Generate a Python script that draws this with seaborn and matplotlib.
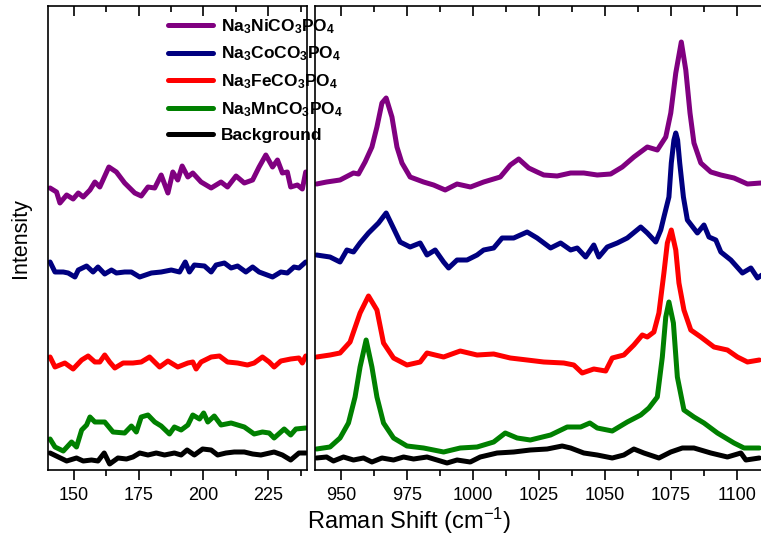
import matplotlib
matplotlib.use("Agg")
import matplotlib.pyplot as plt
from matplotlib.ticker import MultipleLocator
from matplotlib.lines import TICKDOWN
import seaborn as sns

# ---- data (arbitrary intensity units) ----
labels = [r"Na$_\mathbf{3}$NiCO$_\mathbf{3}$PO$_\mathbf{4}$",
          r"Na$_\mathbf{3}$CoCO$_\mathbf{3}$PO$_\mathbf{4}$",
          r"Na$_\mathbf{3}$FeCO$_\mathbf{3}$PO$_\mathbf{4}$",
          r"Na$_\mathbf{3}$MnCO$_\mathbf{3}$PO$_\mathbf{4}$",
          "Background"]
colors = ["#800080", "#000080", "#ff0000", "#008000", "#000000"]

# low wavenumber window (140-240 cm-1)
ni_low_x = [140.8, 143.3, 144.6, 147.2, 149.7, 151.7, 153.6, 156.2, 158.1, 160, 163.5, 166.4, 169.6,
            173.5, 176, 178.6, 181.2, 183.7, 186.3, 188.2, 190.1, 191.8, 194, 195.9, 199.1, 203,
            206.8, 209.3, 212.6, 215.8, 219, 221.5, 224.1, 226.7, 228.6, 230.5, 232.4, 233.7,
            236.3, 238.2, 239.5]
ni_low_y = [282, 278, 267, 275, 271, 277, 273, 280, 288, 283, 303, 298, 287, 277, 274, 283, 282,
            295, 277, 298, 290, 304, 293, 297, 288, 282, 288, 283, 294, 287, 290, 303, 315, 303,
            310, 297, 298, 283, 285, 281, 298]

co_low_x = [140.8, 142.7, 145.9, 147.8, 150.4, 151.7, 154.9, 157.4, 159.3, 161.9, 164.5, 166.4,
            169.6, 172.2, 175.4, 179.9, 183.7, 187.6, 190.8, 193, 194.6, 196.5, 200.4, 203, 204.9,
            208.1, 210.7, 213.2, 216.4, 219, 221.5, 226.7, 229.9, 232.4, 235, 236.9, 239.5]
co_low_y = [208, 198, 198, 197, 193, 200, 204, 198, 203, 196, 200, 197, 198, 198, 193, 197, 198,
            200, 198, 208, 198, 205, 204, 198, 205, 207, 202, 204, 198, 203, 198, 193, 198, 197,
            203, 202, 208]

fe_low_x = [140.8, 142.7, 146.5, 149.7, 153, 155.5, 158.1, 160, 161.9, 163.8, 165.8, 169, 172.8,
            176, 179.2, 183.1, 186.3, 190.1, 194, 195.9, 197.2, 199.1, 203, 206.2, 209.3, 213.2,
            217, 219.6, 222.8, 225.4, 227.3, 229.9, 233.7, 236.9, 238.2, 239.5]
fe_low_y = [113, 103, 107, 101, 110, 114, 108, 108, 115, 108, 102, 107, 107, 108, 113, 103, 109,
            103, 107, 108, 101, 108, 113, 114, 108, 107, 105, 107, 113, 108, 103, 109, 111, 112,
            107, 114]

mn_low_x = [140.8, 142.7, 145.9, 149.1, 151, 153, 154.9, 156.2, 158.1, 161.9, 165.1, 169.6, 172.2,
            174.1, 176, 178.6, 181.2, 183.7, 186.9, 188.8, 191.4, 194, 195.9, 198.5, 200.1, 201.7,
            204.2, 206.8, 210.7, 215.8, 219.6, 222.8, 225.4, 227.3, 231.2, 233.7, 235.7, 239.5]
mn_low_y = [31, 23, 19, 28, 23, 40, 45, 53, 48, 48, 38, 37, 44, 38, 53, 55, 48, 44, 36, 43, 40, 45,
            55, 51, 57, 48, 54, 45, 47, 43, 36, 38, 37, 32, 41, 35, 41, 42]

bg_low_x = [140.8, 144, 147.2, 151, 153.6, 156.8, 159.3, 161.7, 163.8, 167, 170.3, 172.8, 175.4,
            178.6, 181.8, 185, 188.8, 191.4, 193.7, 196.5, 199.7, 203, 205.5, 208.7, 211.9, 215.8,
            219, 222.2, 227.3, 230.5, 233.7, 236.9, 239.5]
bg_low_y = [17, 13, 9, 12, 9, 10, 9, 17, 6, 12, 11, 13, 17, 15, 17, 15, 17, 15, 20, 15, 21, 20, 15,
            17, 18, 18, 16, 15, 18, 15, 10, 17, 17]

# high wavenumber window (940-1110 cm-1)
ni_high_x = [940.6, 944.4, 949.5, 954.6, 956.5, 959, 961.6, 963.5, 965.4, 967.0, 969.2, 971.1, 973,
             976.1, 981.2, 985, 989.4, 993.9, 999, 1004, 1010.3, 1014.1, 1017.3, 1021.1, 1024.3,
             1026.8, 1031.9, 1037, 1042, 1047.1, 1052.2, 1056.6, 1061, 1066.1, 1069.9, 1073.1,
             1075, 1076.9, 1079.0, 1080.7, 1082.3, 1083.8, 1086.4, 1090.2, 1094, 1099, 1104.1,
             1109.2]
ni_high_y = [286, 288, 290, 297, 296, 308, 323, 343, 367, 372, 353, 323, 307, 293, 288, 285, 280,
             286, 283, 288, 293, 305, 311, 302, 298, 295, 294, 297, 297, 295, 296, 303, 313, 323,
             320, 333, 357, 397, 428, 400, 357, 327, 307, 298, 295, 292, 286, 287]

co_high_x = [940.6, 945.7, 949.5, 952.1, 954.6, 957.1, 960.3, 964.1, 967.0, 969.2, 972.3, 976.1,
             979.9, 982.5, 985.6, 988.8, 990.7, 993.9, 997.7, 1001.5, 1004.0, 1007.8, 1011.0,
             1015.4, 1020.5, 1024.3, 1029.4, 1033.2, 1037.0, 1039.5, 1042.7, 1045.8, 1047.7,
             1050.9, 1054.7, 1058.5, 1063.6, 1066.1, 1069.3, 1071.2, 1072.4, 1074.3, 1075.2,
             1076.2, 1076.9, 1077.6, 1078.4, 1079.8, 1081.3, 1085.1, 1087.6, 1089.5, 1092.1, 1094,
             1097.8, 1102.2, 1105.4, 1107.9, 1109.6]
co_high_y = [215, 213, 208, 220, 218, 227, 237, 247, 257, 245, 228, 223, 227, 215, 220, 208, 202,
             210, 210, 215, 220, 222, 232, 232, 238, 232, 222, 227, 220, 222, 213, 225, 213, 223,
             227, 232, 243, 237, 228, 240, 253, 273, 307, 330, 337, 330, 307, 273, 250, 237, 245,
             233, 230, 218, 210, 197, 202, 192, 195]

fe_high_x = [940.6, 945.7, 949.5, 953.3, 957.1, 960.3, 963.5, 966, 969.8, 974.9, 979.9, 982.5,
             985.6, 988.8, 995.1, 1001.5, 1007.8, 1014.1, 1020.5, 1026.8, 1034.4, 1038.2, 1041.4,
             1045.8, 1050.3, 1052.8, 1057.2, 1061, 1064.2, 1066.1, 1068.6, 1070.5, 1072.4, 1073.7,
             1075.2, 1076.9, 1078.1, 1080, 1082.6, 1086.4, 1091.4, 1096.5, 1100.3, 1104.1, 1108.6]
fe_high_y = [113, 115, 117, 128, 157, 174, 160, 127, 112, 105, 108, 117, 115, 113, 119, 115, 116,
             112, 110, 108, 107, 105, 97, 101, 99, 112, 115, 125, 135, 133, 138, 157, 197, 227,
             240, 220, 187, 160, 140, 133, 123, 120, 113, 108, 110]

mn_high_x = [940.6, 945.7, 949.5, 952.7, 955.2, 957.1, 959.4, 961.6, 963.5, 966, 969.8, 974.9,
             981.2, 988.8, 995.1, 1001.5, 1007.8, 1012.2, 1016.7, 1021.7, 1029.4, 1035.7, 1040.8,
             1044.3, 1047.1, 1052.8, 1058.5, 1063.6, 1066.7, 1069.9, 1071.8, 1073.1, 1074.3, 1076,
             1077.5, 1080, 1083.8, 1087.6, 1092.7, 1099, 1102.8, 1108.6]
mn_high_y = [21, 23, 32, 47, 73, 103, 130, 103, 73, 47, 32, 24, 22, 18, 22, 23, 28, 37, 32, 30, 35,
             43, 43, 47, 42, 39, 48, 55, 62, 73, 113, 153, 168, 147, 93, 60, 53, 47, 37, 27, 22, 22]

bg_high_x = [940.6, 944.4, 947, 950.8, 954.6, 958.4, 961.6, 965.4, 969.8, 973.6, 977.4, 982.5,
             986.3, 990.1, 993.9, 998.9, 1002.7, 1009.1, 1015.4, 1021.7, 1028.1, 1033.8, 1037,
             1042, 1047.1, 1052.8, 1057.2, 1061, 1064.8, 1070.5, 1075, 1079.4, 1083.8, 1090.2,
             1096.5, 1101.6, 1103.5, 1108.6]
bg_high_y = [12, 13, 9, 13, 10, 12, 8, 12, 10, 13, 11, 13, 10, 7, 10, 8, 13, 17, 18, 20, 21, 24,
             22, 17, 15, 12, 15, 21, 17, 12, 18, 22, 22, 17, 13, 17, 10, 12]

low_series = [(ni_low_x, ni_low_y), (co_low_x, co_low_y), (fe_low_x, fe_low_y),
              (mn_low_x, mn_low_y), (bg_low_x, bg_low_y)]
high_series = [(ni_high_x, ni_high_y), (co_high_x, co_high_y), (fe_high_x, fe_high_y),
               (mn_high_x, mn_high_y), (bg_high_x, bg_high_y)]

# ---- style ----
sns.set_style("ticks")
plt.rcParams["font.family"] = ["Liberation Sans", "DejaVu Sans"]
plt.rcParams["mathtext.fontset"] = "custom"
plt.rcParams["mathtext.rm"] = "Liberation Sans"
plt.rcParams["mathtext.bf"] = "Liberation Sans:bold"
plt.rcParams["mathtext.default"] = "regular"
plt.rcParams["text.color"] = "black"
plt.rcParams["axes.labelcolor"] = "black"
plt.rcParams["xtick.color"] = "black"

W, H = 761, 539
fig = plt.figure(figsize=(W / 100, H / 100), dpi=100)
ax1 = fig.add_axes([48 / W, (H - 470) / H, 259 / W, 464 / H])
ax2 = fig.add_axes([315 / W, (H - 470) / H, 448 / W, 464 / H])

for ax, series, xlim in [(ax1, low_series, (140, 240)), (ax2, high_series, (940, 1110))]:
    for (xs, ys), c, lab in zip(series, colors, labels):
        sns.lineplot(x=xs, y=ys, ax=ax, color=c, lw=3.6, label=lab, estimator=None, sort=False)
    ax.set_xlim(*xlim)
    ax.set_ylim(0, 464)
    ax.set_yticks([])
    ax.xaxis.set_major_locator(MultipleLocator(25))
    ax.xaxis.set_minor_locator(MultipleLocator(12.5))
    # ticks on both edges pointing in; bottom ones are flipped outward below
    ax.tick_params(axis="x", which="major", direction="in", length=7, width=1.2,
                   top=True, bottom=True, labelsize=13, pad=12, colors="black")
    ax.tick_params(axis="x", which="minor", direction="in", length=4, width=1.2,
                   top=True, bottom=True, colors="black")
    for sp in ax.spines.values():
        sp.set_visible(True)
        sp.set_linewidth(1.2)
        sp.set_color("black")
    ax.get_legend().remove()

fig.canvas.draw()
for ax in (ax1, ax2):
    for t in ax.xaxis.get_major_ticks() + ax.xaxis.get_minor_ticks():
        t.tick1line.set_marker(TICKDOWN)

ax1.set_ylabel("Intensity", fontsize=15.5, labelpad=12)

handles, _ = ax1.get_legend_handles_labels()
fig.legend(handles, labels, loc="upper left", bbox_to_anchor=(168 / W, (H - 17) / H),
           frameon=False, prop={"weight": "bold", "size": 12.5}, handlelength=2.6,
           handletextpad=0.45, labelspacing=0.52, borderpad=0, borderaxespad=0,
           labelcolor="black")

fig.text(409 / W, (H - 521) / H, "Raman Shift (cm$^{-1}$)", ha="center", va="center", fontsize=17)

fig.savefig("out.png", dpi=100)
